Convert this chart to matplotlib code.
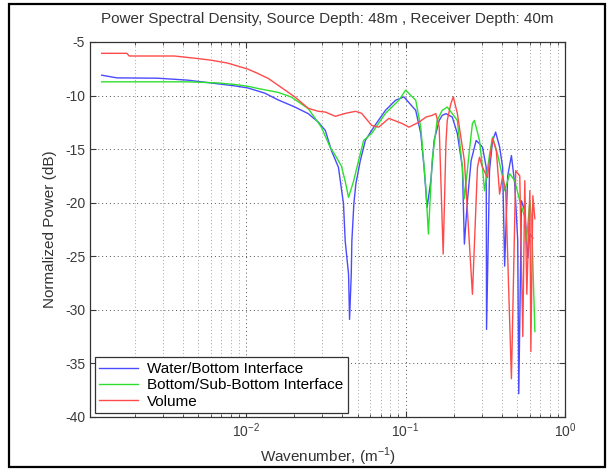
import matplotlib
matplotlib.use("Agg")
import matplotlib.pyplot as plt
from matplotlib.patches import Rectangle
from matplotlib.ticker import LogLocator, MultipleLocator

plt.rcParams["font.family"] = ["Liberation Sans", "DejaVu Sans"]
plt.rcParams["mathtext.fontset"] = "custom"
plt.rcParams["mathtext.rm"] = "Liberation Sans"
plt.rcParams["axes.unicode_minus"] = False

# Wavenumber (1/m) and normalized power (dB)
water_k = [0.001244, 0.001547, 0.00277, 0.00428, 0.00598, 0.00849, 0.01025, 0.01313, 0.01585,
           0.02022, 0.02454, 0.02838, 0.03141, 0.03428, 0.03796, 0.04082, 0.04184, 0.04391,
           0.04456, 0.04567, 0.04607, 0.04742, 0.04882, 0.05205, 0.05598, 0.06316, 0.07484,
           0.0866, 0.0977, 0.1158, 0.1246, 0.1307, 0.1365, 0.1441, 0.1511, 0.1626, 0.1698,
           0.1792, 0.1964, 0.2112, 0.2272, 0.2339, 0.2444, 0.2578, 0.2772, 0.2909, 0.3038,
           0.3206, 0.3221, 0.3363, 0.3514, 0.3672, 0.3890, 0.4064, 0.4183, 0.4371, 0.4613,
           0.4839, 0.5054, 0.5129, 0.5334, 0.5596, 0.5847, 0.6019, 0.6287]
water_db = [-8.10, -8.35, -8.38, -8.56, -8.82, -9.10, -9.29, -9.78, -10.40,
            -11.07, -11.69, -12.48, -13.26, -15.13, -16.70, -20.10, -23.57, -26.67,
            -30.89, -26.67, -23.57, -20.10, -18.23, -16.07, -14.19, -12.95, -11.38,
            -10.44, -10.13, -11.38, -13.54, -16.70, -20.45, -17.95, -14.19, -12.32, -11.85,
            -11.69, -12.01, -13.54, -16.70, -23.86, -19.82, -16.07, -14.19, -14.5, -14.82,
            -16.70, -31.83, -17.0, -14.2, -13.41, -14.8, -16.70, -25.92, -17.5, -15.60,
            -18.23, -23.57, -37.83, -19.82, -20.76, -25.17, -22.92, -23.29]

bottom_k = [0.001244, 0.00428, 0.00663, 0.00849, 0.01025, 0.01186, 0.01585, 0.01915, 0.02454,
            0.02965, 0.03365, 0.03633, 0.03964, 0.04184, 0.04391, 0.04721, 0.05077, 0.0546,
            0.06133, 0.07484, 0.09084, 0.1001, 0.1158, 0.1246, 0.134, 0.1391, 0.1468, 0.1578,
            0.1698, 0.1826, 0.2112, 0.2272, 0.2339, 0.2515, 0.2627, 0.2704, 0.2909, 0.3038,
            0.3128, 0.3363, 0.3514, 0.3780, 0.4064, 0.4183, 0.45, 0.4839, 0.5204, 0.5596,
            0.5737, 0.6019, 0.6168, 0.6472]
bottom_db = [-8.72, -8.72, -8.82, -8.97, -9.13, -9.34, -9.70, -10.13, -11.22,
             -12.95, -14.82, -15.6, -16.6, -18.0, -19.5, -18.0, -16.07, -14.19,
             -13.54, -11.66, -10.44, -9.5, -10.44, -12.95, -18.57, -22.92, -16.07, -12.32,
             -11.38, -11.07, -12.32, -16.70, -19.63, -15.13, -12.60, -12.32, -14.19, -16.70,
             -18.88, -15.5, -13.88, -15.5, -17.64, -18.88, -17.29, -17.95, -19.82, -21.39,
             -23.57, -19.82, -21.39, -32.02]

volume_k = [0.001244, 0.00179, 0.00185, 0.00355, 0.00447, 0.00598, 0.00766, 0.01025, 0.01186,
            0.01313, 0.01371, 0.01585, 0.02022, 0.02454, 0.02838, 0.03141, 0.03633, 0.04202,
            0.04861, 0.05304, 0.06133, 0.06792, 0.07854, 0.0949, 0.1051, 0.1215, 0.1344,
            0.1468, 0.1549, 0.1626, 0.1722, 0.1792, 0.1826, 0.1927, 0.1993, 0.2112, 0.2175,
            0.2339, 0.2444, 0.2627, 0.2825, 0.2909, 0.3038, 0.3267, 0.3363, 0.3514, 0.3708,
            0.3890, 0.4064, 0.4246, 0.4613, 0.4910, 0.5204, 0.5436, 0.5596, 0.5762, 0.6019,
            0.6107, 0.6287, 0.6472]
volume_db = [-6.06, -6.06, -6.31, -6.31, -6.47, -6.69, -6.97, -7.53, -7.94,
             -8.26, -8.38, -9.03, -10.13, -11.19, -11.47, -11.54, -11.94, -11.66,
             -11.47, -11.66, -12.79, -12.95, -12.13, -12.60, -12.95, -12.48, -12.01,
             -11.85, -11.69, -12.95, -24.79, -14.47, -12.32, -10.72, -10.13, -11.66, -12.95,
             -16.07, -20.76, -28.55, -16.70, -15.76, -16.70, -17.66, -16.07, -14.01, -15.13,
             -19.2, -17.5, -18.88, -36.43, -17.01, -17.5, -32.49, -17.95, -28.55, -18.88,
             -33.89, -19.35, -21.5]

fig = plt.figure(figsize=(6.13, 4.70), dpi=100)
ax = fig.add_axes([0.1468, 0.1128, 0.7749, 0.7979])

ax.plot(water_k, water_db, color="#4a4aff", lw=1.0, label="Water/Bottom Interface")
ax.plot(bottom_k, bottom_db, color="#2ee02e", lw=1.0, label="Bottom/Sub-Bottom Interface")
ax.plot(volume_k, volume_db, color="#ff4a4a", lw=1.0, label="Volume")

ax.set_xscale("log")
ax.set_xlim(1.05e-3, 1.0)
ax.set_ylim(-40, -5)
ax.yaxis.set_major_locator(MultipleLocator(5))
ax.xaxis.set_major_locator(LogLocator(base=10))
ax.xaxis.set_minor_locator(LogLocator(base=10, subs=range(2, 10)))

ax.grid(which="major", color="#555555", linestyle=(0, (1, 3)), lw=0.7)
ax.grid(which="minor", axis="x", color="#888888", linestyle=(0, (1, 3)), lw=0.6)

ax.tick_params(which="both", direction="in", top=True, right=True, labelsize=10, colors="#3a3a3a")
ax.tick_params(which="major", length=4)
ax.tick_params(which="minor", length=2)
for s in ax.spines.values():
    s.set_color("#333333")
    s.set_linewidth(0.9)

ax.set_title("Power Spectral Density, Source Depth: 48m , Receiver Depth: 40m", fontsize=11, pad=14, color="#333333")
ax.set_xlabel("Wavenumber, (m$^{-1}$)", fontsize=11, color="#333333", labelpad=4)
ax.set_ylabel("Normalized Power (dB)", fontsize=11, color="#333333", labelpad=6)

leg = ax.legend(loc="lower left", bbox_to_anchor=(0.01, 0.01), borderaxespad=0, fontsize=11,
                fancybox=False, framealpha=1, edgecolor="#333333", handlelength=2.5,
                labelspacing=0.15, handletextpad=0.6, borderpad=0.3)
leg.get_frame().set_linewidth(0.9)

# outer black frame of the exported figure
fig.patches.append(Rectangle((9 / 613, 3 / 470), 596 / 613, 463 / 470, transform=fig.transFigure,
                             fill=False, edgecolor="black", lw=1.6))

fig.savefig("out.png", dpi=100)
